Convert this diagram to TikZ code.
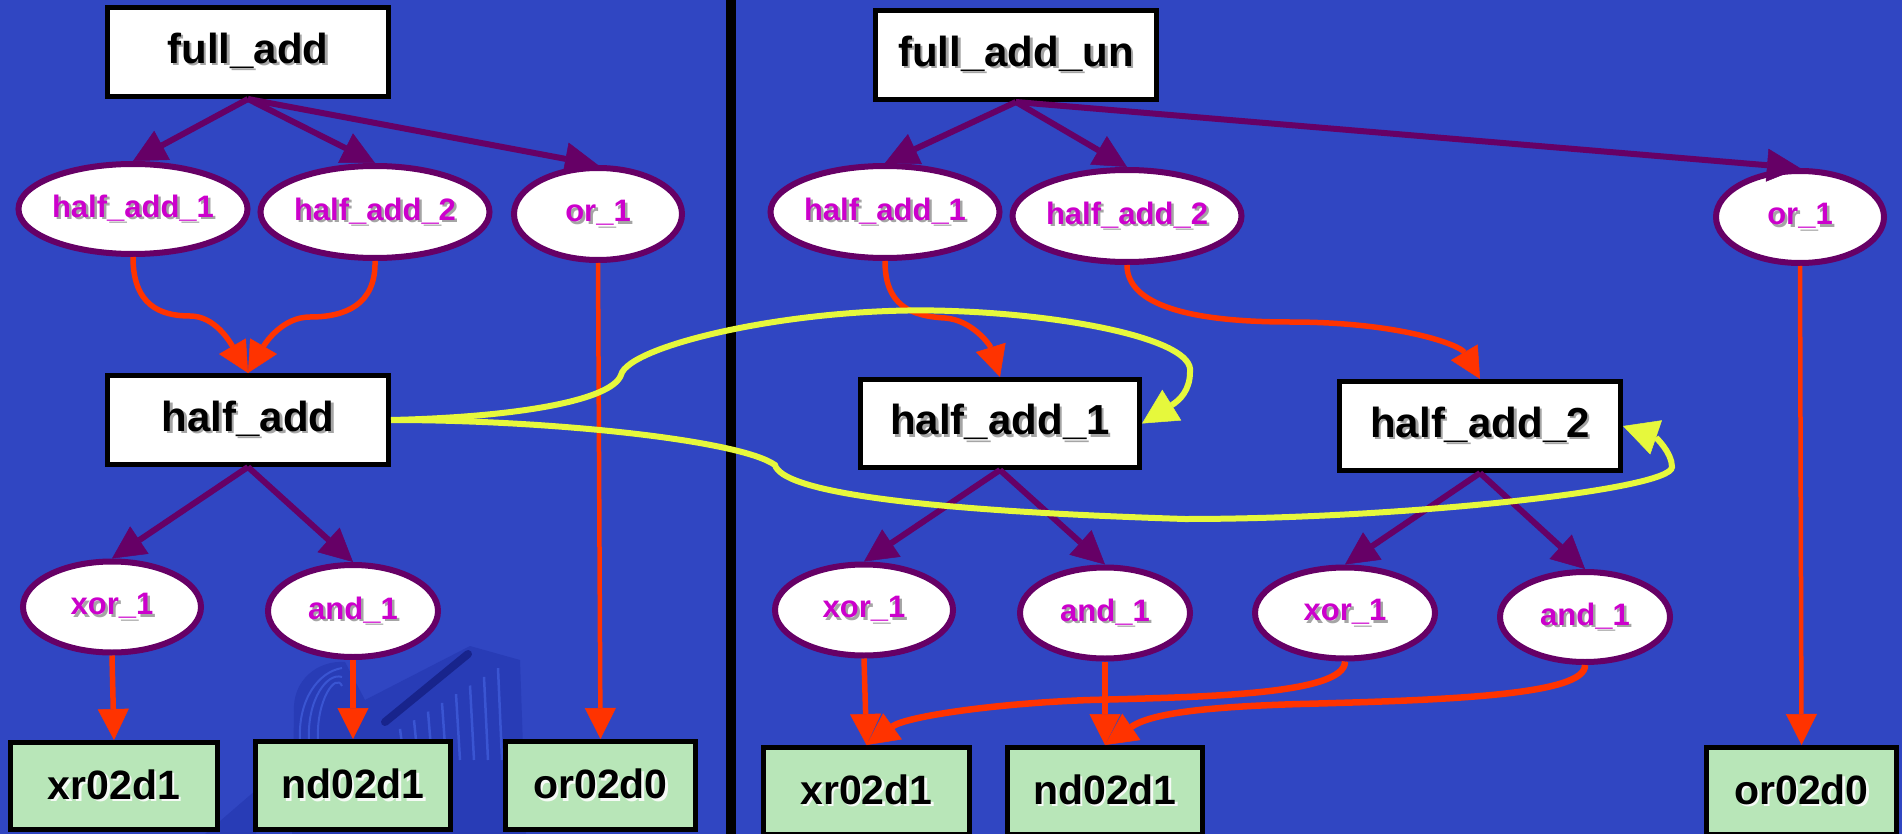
\documentclass[tikz,border=0pt]{standalone}
\usepackage{fontspec}
\setmainfont{Liberation Sans}
\usetikzlibrary{arrows.meta,shapes.geometric}

\definecolor{bg}{RGB}{48,70,194}
\definecolor{decor}{RGB}{40,60,182}
\definecolor{decordark}{RGB}{24,36,140}
\definecolor{decorstripe}{RGB}{66,96,222}
\definecolor{edgepurple}{RGB}{102,0,102}
\definecolor{netred}{RGB}{255,51,0}
\definecolor{linkyellow}{RGB}{230,248,60}
\definecolor{labelmag}{RGB}{204,0,204}
\definecolor{cellgreen}{RGB}{184,230,184}
\definecolor{shadowgray}{RGB}{165,165,165}
\definecolor{shadowlight}{RGB}{245,250,245}

% text with a small drop shadow behind it
\newcommand\shtext[2]{\leavevmode\rlap{\kern2.5pt\raisebox{-2.5pt}{\textcolor{#1}{#2}}}#2}

\tikzset{
  modbox/.style={draw=black, line width=5pt, fill=white, inner sep=0pt,
    minimum width=281pt, minimum height=89pt,
    font=\fontsize{42}{42}\selectfont\bfseries},
  inst/.style={ellipse, draw=edgepurple, line width=6pt, fill=white, inner sep=0pt,
    text=labelmag, font=\fontsize{31}{31}\selectfont\bfseries},
  cell/.style={draw=black, line width=5pt, fill=cellgreen, inner sep=0pt,
    font=\fontsize{41}{41}\selectfont\bfseries},
  hier/.style={draw=edgepurple, line width=6pt,
    -{Triangle[length=33pt,width=33pt,line width=0.5pt]}},
  net/.style={draw=netred, line width=5.5pt,
    -{Triangle[length=31pt,width=31pt,line width=0.5pt]}},
  netthin/.style={draw=netred, line width=4.5pt,
    -{Triangle[length=31pt,width=31pt,line width=0.5pt]}},
  netthick/.style={draw=netred, line width=6.5pt,
    -{Triangle[length=32pt,width=32pt,line width=0.5pt]}},
  link/.style={draw=linkyellow, line width=6pt,
    -{Triangle[length=35pt,width=36pt,line width=0.5pt]}},
}

\begin{document}
\begin{tikzpicture}[x=1pt,y=-1pt]
  % canvas
  \fill[bg] (0,0) rectangle (1902,834);
  \useasboundingbox (0,0) rectangle (1902,834);

  % faint ribbon-cable picture in the lower left
  \fill[decor] (292,834) -- (294,712) .. controls (292,680) and (318,660) .. (345,662)
    -- (365,700) -- (470,646) -- (520,660) -- (526,834) -- cycle;
  \fill[decor] (205,834) -- (256,790) -- (256,834) -- cycle;
  \foreach \dx in {0,9,18}
    \draw[decorstripe, opacity=0.7, line width=2pt]
      (300+\dx,740) .. controls (298+\dx,700) and (318+\dx,672) .. (342,668+\dx);
  \foreach \sx in {400,414,428,442,456,470,484,498}
    \draw[decorstripe, opacity=0.7, line width=2.5pt]
      (\sx,{732-(\sx-395)*0.62}) -- (\sx+4,760);
  \draw[decordark, line width=8pt, line cap=round] (385,722) -- (468,654);

  % panel divider
  \fill[black] (726,0) rectangle (736,834);

  % ---------------- full_add ----------------
  \node[modbox] (fa) at (248,52) {\shtext{shadowgray}{full\_add}};
  \node[inst, minimum width=228pt, minimum height=90pt] (ha1L) at (133,209) {\shtext{shadowgray}{half\_add\_1}};
  \node[inst, minimum width=228pt, minimum height=92pt] (ha2L) at (375,212) {\shtext{shadowgray}{half\_add\_2}};
  \node[inst, minimum width=168pt, minimum height=92pt] (orL) at (598,214) {\shtext{shadowgray}{or\_1}};
  \node[modbox] (ha) at (248,420) {\shtext{shadowgray}{half\_add}};
  \node[inst, minimum width=178pt, minimum height=91pt] (xorL) at (112,607) {\shtext{shadowgray}{xor\_1}};
  \node[inst, minimum width=170pt, minimum height=92pt] (andL) at (353,611) {\shtext{shadowgray}{and\_1}};
  \node[cell, minimum width=207pt, minimum height=87pt] (xrL) at (114,786) {\shtext{shadowlight}{xr02d1}};
  \node[cell, minimum width=195pt, minimum height=88pt] (ndL) at (353,785.5) {\shtext{shadowlight}{nd02d1}};
  \node[cell, minimum width=190pt, minimum height=88pt] (or0L) at (600.5,785.5) {\shtext{shadowlight}{or02d0}};

  % ---------------- full_add_un ----------------
  \node[modbox] (fau) at (1016,55) {\shtext{shadowgray}{full\_add\_un}};
  \node[inst, minimum width=228pt, minimum height=92pt] (ha1R) at (885,212) {\shtext{shadowgray}{half\_add\_1}};
  \node[inst, minimum width=228pt, minimum height=92pt] (ha2R) at (1127,216) {\shtext{shadowgray}{half\_add\_2}};
  \node[inst, minimum width=168pt, minimum height=92pt] (orR) at (1800,217) {\shtext{shadowgray}{or\_1}};
  \node[modbox, minimum width=279pt, minimum height=88pt] (hb1) at (1000,423.5) {\shtext{shadowgray}{half\_add\_1}};
  \node[modbox] (hb2) at (1480,426) {\shtext{shadowgray}{half\_add\_2}};
  \node[inst, minimum width=178pt, minimum height=91pt] (xor1R) at (864,610) {\shtext{shadowgray}{xor\_1}};
  \node[inst, minimum width=170pt, minimum height=91pt] (and1R) at (1105,613) {\shtext{shadowgray}{and\_1}};
  \node[inst, minimum width=180pt, minimum height=91pt] (xor2R) at (1345,613) {\shtext{shadowgray}{xor\_1}};
  \node[inst, minimum width=170pt, minimum height=90pt] (and2R) at (1585,617) {\shtext{shadowgray}{and\_1}};
  \node[cell, minimum width=206pt, minimum height=87pt] (xrR) at (866.5,791) {\shtext{shadowlight}{xr02d1}};
  \node[cell, minimum width=195pt, minimum height=87pt] (ndR) at (1105,791) {\shtext{shadowlight}{nd02d1}};
  \node[cell, minimum width=190pt, minimum height=87pt] (or0R) at (1801.5,791) {\shtext{shadowlight}{or02d0}};

  % ---------------- hierarchy edges ----------------
  \draw[hier] (fa.south) -- (ha1L.north);
  \draw[hier] (fa.south) -- (ha2L.north);
  \draw[hier] (fa.south) -- (orL.north);
  \draw[hier] (ha.south) -- (xorL.north);
  \draw[hier] (ha.south) -- (andL.north);

  \draw[hier] (fau.south) -- (ha1R.north);
  \draw[hier] (fau.south) -- (ha2R.north);
  \draw[hier] (fau.south) -- (orR.north);
  \draw[hier] (hb1.south) -- (xor1R.north);
  \draw[hier] (hb1.south) -- (and1R.north);
  \draw[hier] (hb2.south) -- (xor2R.north);
  \draw[hier] (hb2.south) -- (and2R.north);

  % ---------------- binding edges ----------------
  \draw[net] (ha1L.south) .. controls (133,305) and (160,316) .. (190,316)
    .. controls (215,316) and (230,342) .. (ha.north);
  \draw[net] (ha2L.south) .. controls (376,305) and (345,317) .. (310,317)
    .. controls (283,317) and (266,342) .. (ha.north);
  \draw[netthin] (orL.south) -- (or0L.north);
  \draw[net] (xorL.south) -- (xrL.north);
  \draw[net] (andL.south) -- (ndL.north);

  \draw[net] (ha1R.south) .. controls (885,305) and (910,316) .. (945,318)
    .. controls (972,320) and (990,345) .. (hb1.north);
  \draw[net] (ha2R.south) .. controls (1127,305) and (1190,322) .. (1290,322)
    .. controls (1400,322) and (1460,345) .. (hb2.north);
  \draw[netthin] (orR.south) -- (or0R.north);
  \draw[net] (xor1R.south) -- (xrR.north);
  \draw[net] (and1R.south) -- (ndR.north);
  \draw[netthick] (xor2R.south) .. controls (1345,695) and (1200,697) .. (1090,700)
    .. controls (1000,703) and (907,716) .. (xrR.north);
  \draw[netthick] (and2R.south) .. controls (1586,695) and (1450,700) .. (1300,704)
    .. controls (1200,707) and (1150,714) .. (ndR.north);

  % ---------------- half_add copied into two instances ----------------
  \draw[link] (ha.east) .. controls (520,417) and (612,400) .. (621,375)
    .. controls (628,345) and (800,305) .. (952,311)
    .. controls (1070,315) and (1195,340) .. (1190,372)
    .. controls (1190,390) and (1180,400) .. (hb1.east);
  \draw[link] (ha.east) .. controls (550,420) and (740,440) .. (775,465)
    .. controls (782,490) and (900,510) .. (1185,519)
    .. controls (1400,519) and (1672,490) .. (1672,467)
    .. controls (1672,452) and (1655,437) .. (hb2.east);
\end{tikzpicture}
\end{document}
